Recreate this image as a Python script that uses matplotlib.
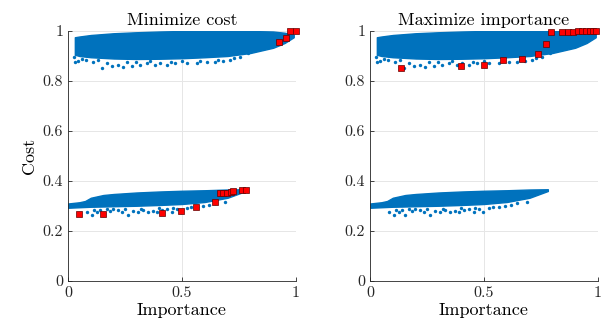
import matplotlib
matplotlib.use('Agg')
import matplotlib.pyplot as plt

plt.rcParams['font.family'] = ['cmr10']
plt.rcParams['mathtext.fontset'] = 'cm'
plt.rcParams['axes.unicode_minus'] = False
plt.rcParams['axes.formatter.use_mathtext'] = True

BLUE = '#0072BD'

# dense band envelopes (upper and lower cloud)
hi_x = [0.03, 0.05, 0.1, 0.2, 0.3, 0.4, 0.5, 0.6, 0.7, 0.8, 0.9, 0.95, 0.99]
hi_top = [0.975, 0.978, 0.984, 0.991, 0.995, 0.998, 1.0, 1.0, 1.0, 1.0, 0.998, 0.993, 0.985]
hi_bot = [0.905, 0.9, 0.895, 0.89, 0.888, 0.889, 0.891, 0.895, 0.9, 0.912, 0.933, 0.952, 0.975]

lo_x = [0.0, 0.05, 0.075, 0.1, 0.155, 0.2, 0.3, 0.4, 0.5, 0.6, 0.7, 0.78]
lo_top = [0.31, 0.315, 0.32, 0.333, 0.344, 0.348, 0.354, 0.358, 0.361, 0.363, 0.366, 0.367]
lo_bot = [0.293, 0.295, 0.296, 0.297, 0.298, 0.299, 0.301, 0.304, 0.308, 0.316, 0.333, 0.36]

# sparse points under the dense bands
hi_sx = [0.026, 0.031, 0.045, 0.079, 0.111, 0.148, 0.192, 0.221, 0.243, 0.279, 0.316, 0.345,
         0.382, 0.404, 0.433, 0.469, 0.52, 0.564, 0.608, 0.645, 0.681, 0.711, 0.754, 0.791,
         0.06, 0.13, 0.17, 0.26, 0.3, 0.36, 0.45, 0.5, 0.58, 0.66, 0.73]
hi_sy = [0.897, 0.877, 0.881, 0.883, 0.877, 0.851, 0.86, 0.864, 0.857, 0.86, 0.864, 0.871,
         0.864, 0.871, 0.864, 0.871, 0.871, 0.873, 0.877, 0.877, 0.881, 0.886, 0.897, 0.911,
         0.89, 0.884, 0.872, 0.878, 0.875, 0.879, 0.878, 0.881, 0.882, 0.886, 0.892]
lo_sx = [0.082, 0.104, 0.126, 0.14, 0.155, 0.184, 0.199, 0.221, 0.235, 0.265, 0.287, 0.308, 0.33,
         0.352, 0.374, 0.389, 0.411, 0.433, 0.455, 0.477, 0.494, 0.521, 0.564, 0.594, 0.645,
         0.115, 0.17, 0.25, 0.32, 0.4, 0.46, 0.54, 0.62, 0.69]
lo_sy = [0.277, 0.264, 0.275, 0.284, 0.264, 0.281, 0.287, 0.284, 0.277, 0.264, 0.281, 0.275, 0.284,
         0.275, 0.281, 0.275, 0.284, 0.287, 0.277, 0.287, 0.275, 0.291, 0.295, 0.3, 0.311,
         0.286, 0.289, 0.289, 0.29, 0.291, 0.292, 0.296, 0.305, 0.318]

# selected solutions (red)
min_x = [0.925, 0.956, 0.974, 1.0,
         0.05, 0.152, 0.412, 0.497, 0.563, 0.646, 0.667, 0.681, 0.696, 0.713, 0.722, 0.763, 0.781]
min_y = [0.955, 0.971, 0.999, 1.0,
         0.267, 0.269, 0.273, 0.28, 0.297, 0.316, 0.352, 0.352, 0.353, 0.357, 0.361, 0.363, 0.363]
max_x = [0.136, 0.399, 0.501, 0.585, 0.668, 0.737, 0.773, 0.794, 0.841, 0.87, 0.892, 0.914,
         0.931, 0.949, 0.965, 0.98, 0.993]
max_y = [0.851, 0.86, 0.863, 0.883, 0.889, 0.908, 0.948, 0.995, 0.995, 0.995, 0.996, 0.999,
         1.0, 1.0, 1.0, 1.0, 1.0]

titles = ['Minimize cost', 'Maximize importance']
picks = [(min_x, min_y), (max_x, max_y)]

fig = plt.figure(figsize=(6.09, 3.34), dpi=100)
lefts = [68 / 609, 370 / 609]
for i in range(2):
    ax = fig.add_axes([lefts[i], 53 / 334, 228 / 609, 250 / 334])
    ax.fill_between(hi_x, hi_bot, hi_top, color=BLUE, lw=1.0, edgecolor=BLUE)
    ax.fill_between(lo_x, lo_bot, lo_top, color=BLUE, lw=1.0, edgecolor=BLUE)
    ax.scatter(hi_sx, hi_sy, s=6, color=BLUE, lw=0)
    ax.scatter(lo_sx, lo_sy, s=6, color=BLUE, lw=0)
    px, py = picks[i]
    ax.plot(px, py, 's', ms=4.5, mfc='#ff0000', mec='#600000', mew=0.5, clip_on=False, zorder=5)
    ax.set_xlim(0, 1)
    ax.set_ylim(0, 1)
    ax.set_xticks([0, 0.5, 1])
    ax.set_xticklabels(['0', '0.5', '1'])
    ax.set_yticks([0, 0.2, 0.4, 0.6, 0.8, 1])
    ax.set_yticklabels(['0', '0.2', '0.4', '0.6', '0.8', '1'])
    ax.grid(True, color='#e6e6e6', lw=0.7)
    ax.set_axisbelow(True)
    ax.spines['top'].set_visible(False)
    ax.spines['right'].set_visible(False)
    for s in ['left', 'bottom']:
        ax.spines[s].set_color('#262626')
        ax.spines[s].set_linewidth(0.6)
    ax.tick_params(direction='in', length=3, width=0.6, labelsize=11.5, colors='#262626')
    ax.set_title(titles[i], fontsize=13, pad=4)
    ax.set_xlabel('Importance', fontsize=13, labelpad=2)
    if i == 0:
        ax.set_ylabel('Cost', fontsize=13, labelpad=4)

fig.savefig('out.png', dpi=100)
